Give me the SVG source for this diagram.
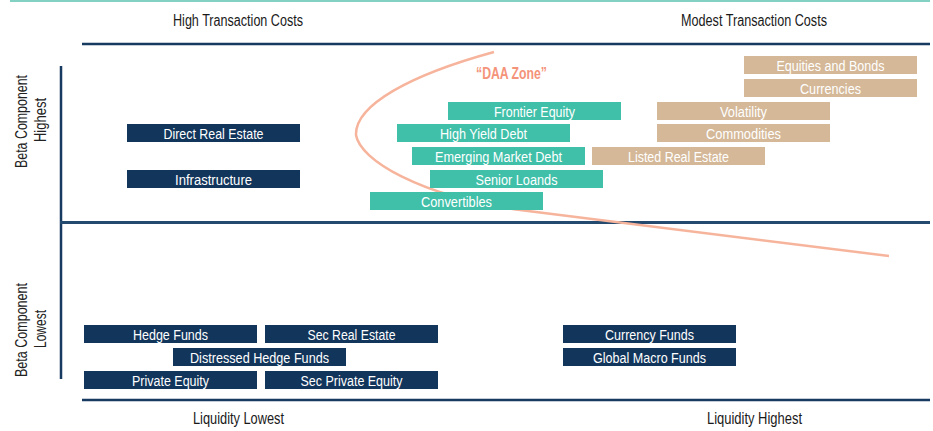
<svg xmlns="http://www.w3.org/2000/svg" width="933" height="431" viewBox="0 0 933 431">
<style>
text{font-family:"Liberation Sans Narrow","Liberation Sans",Arial,sans-serif;}
.hdr{font-size:16px;fill:#1a1a1a;text-anchor:middle;}
.lbl{font-size:16px;fill:#222;text-anchor:middle;}
.bt{font-size:15.5px;fill:#ffffff;text-anchor:middle;}
.navy{fill:#12355b;}
.teal{fill:#40bfa9;}
.tan{fill:#d4b898;}
.ax{stroke:#173a60;stroke-width:2.5;fill:none;}
</style>
<rect x="0" y="0" width="933" height="431" fill="#ffffff"/>
<g id="connectors">
<line x1="10" y1="1" x2="930" y2="1" stroke="#82d1c2" stroke-width="2"/>
<line class="ax" x1="82" y1="44" x2="930" y2="44"/>
<line class="ax" x1="61" y1="66" x2="61" y2="379"/>
<line x1="60" y1="222.5" x2="930" y2="222.5" stroke="#244a70" stroke-width="3"/>
<line class="ax" x1="82" y1="400" x2="930" y2="400"/>
<path d="M 494 52 C 410 75, 355 105, 356 135 C 360 160, 420 196, 520 210 L 889 256" fill="none" stroke="#f7b49c" stroke-width="2.5"/>
</g>
<g id="headers">
<text class="hdr" x="238" y="26" textLength="130" lengthAdjust="spacingAndGlyphs">High Transaction Costs</text>
<text class="hdr" x="754" y="26" textLength="146" lengthAdjust="spacingAndGlyphs">Modest Transaction Costs</text>
<text class="hdr" x="238.5" y="424" textLength="91" lengthAdjust="spacingAndGlyphs">Liquidity Lowest</text>
<text class="hdr" x="754.5" y="424" textLength="95" lengthAdjust="spacingAndGlyphs">Liquidity Highest</text>
<text x="511.5" y="79" font-size="16" font-weight="bold" fill="#f4937a" text-anchor="middle" textLength="71" lengthAdjust="spacingAndGlyphs">“DAA Zone”</text>
</g>
<g id="axis-labels">
<text class="lbl" transform="translate(26.5 121.5) rotate(-90)" textLength="93" lengthAdjust="spacingAndGlyphs">Beta Component</text>
<text class="lbl" transform="translate(46 120) rotate(-90)" textLength="44" lengthAdjust="spacingAndGlyphs">Highest</text>
<text class="lbl" transform="translate(26.5 330) rotate(-90)" textLength="94" lengthAdjust="spacingAndGlyphs">Beta Component</text>
<text class="lbl" transform="translate(46 329) rotate(-90)" textLength="38" lengthAdjust="spacingAndGlyphs">Lowest</text>
</g>
<g id="direct-real-estate"><rect class="navy" x="127" y="124" width="173" height="18"/><text class="bt" x="213.5" y="139" textLength="100" lengthAdjust="spacingAndGlyphs">Direct Real Estate</text></g>
<g id="infrastructure"><rect class="navy" x="127" y="170" width="173" height="18"/><text class="bt" x="213.5" y="185" textLength="77" lengthAdjust="spacingAndGlyphs">Infrastructure</text></g>
<g id="frontier-equity"><rect class="teal" x="448" y="102" width="173" height="18"/><text class="bt" x="534.5" y="117" textLength="81" lengthAdjust="spacingAndGlyphs">Frontier Equity</text></g>
<g id="high-yield-debt"><rect class="teal" x="397" y="124" width="173" height="18"/><text class="bt" x="483.5" y="139" textLength="87" lengthAdjust="spacingAndGlyphs">High Yield Debt</text></g>
<g id="emerging-market-debt"><rect class="teal" x="412" y="147" width="173" height="18"/><text class="bt" x="498.5" y="162" textLength="127" lengthAdjust="spacingAndGlyphs">Emerging Market Debt</text></g>
<g id="senior-loands"><rect class="teal" x="430" y="170" width="173" height="18"/><text class="bt" x="516.5" y="185" textLength="82" lengthAdjust="spacingAndGlyphs">Senior Loands</text></g>
<g id="convertibles"><rect class="teal" x="370" y="192" width="173" height="18"/><text class="bt" x="456.5" y="207" textLength="71" lengthAdjust="spacingAndGlyphs">Convertibles</text></g>
<g id="equities-and-bonds"><rect class="tan" x="744" y="56" width="173" height="18"/><text class="bt" x="830.5" y="71" textLength="108" lengthAdjust="spacingAndGlyphs">Equities and Bonds</text></g>
<g id="currencies"><rect class="tan" x="744" y="79" width="173" height="18"/><text class="bt" x="830.5" y="94" textLength="61" lengthAdjust="spacingAndGlyphs">Currencies</text></g>
<g id="volatility"><rect class="tan" x="657" y="102" width="173" height="18"/><text class="bt" x="743.5" y="117" textLength="47" lengthAdjust="spacingAndGlyphs">Volatility</text></g>
<g id="commodities"><rect class="tan" x="657" y="124" width="173" height="18"/><text class="bt" x="743.5" y="139" textLength="75" lengthAdjust="spacingAndGlyphs">Commodities</text></g>
<g id="listed-real-estate"><rect class="tan" x="592" y="147" width="173" height="18"/><text class="bt" x="678.5" y="162" textLength="101" lengthAdjust="spacingAndGlyphs">Listed Real Estate</text></g>
<g id="hedge-funds"><rect class="navy" x="84" y="325" width="173" height="18"/><text class="bt" x="170.5" y="340" textLength="75" lengthAdjust="spacingAndGlyphs">Hedge Funds</text></g>
<g id="sec-real-estate"><rect class="navy" x="265" y="325" width="173" height="18"/><text class="bt" x="351.5" y="340" textLength="88" lengthAdjust="spacingAndGlyphs">Sec Real Estate</text></g>
<g id="distressed-hedge-funds"><rect class="navy" x="173" y="348" width="173" height="18"/><text class="bt" x="259.5" y="363" textLength="139" lengthAdjust="spacingAndGlyphs">Distressed Hedge Funds</text></g>
<g id="private-equity"><rect class="navy" x="84" y="371" width="173" height="18"/><text class="bt" x="170.5" y="386" textLength="77" lengthAdjust="spacingAndGlyphs">Private Equity</text></g>
<g id="sec-private-equity"><rect class="navy" x="265" y="371" width="173" height="18"/><text class="bt" x="351.5" y="386" textLength="102" lengthAdjust="spacingAndGlyphs">Sec Private Equity</text></g>
<g id="currency-funds"><rect class="navy" x="563" y="325" width="173" height="18"/><text class="bt" x="649.5" y="340" textLength="89" lengthAdjust="spacingAndGlyphs">Currency Funds</text></g>
<g id="global-macro-funds"><rect class="navy" x="563" y="348" width="173" height="18"/><text class="bt" x="649.5" y="363" textLength="113" lengthAdjust="spacingAndGlyphs">Global Macro Funds</text></g>
</svg>
